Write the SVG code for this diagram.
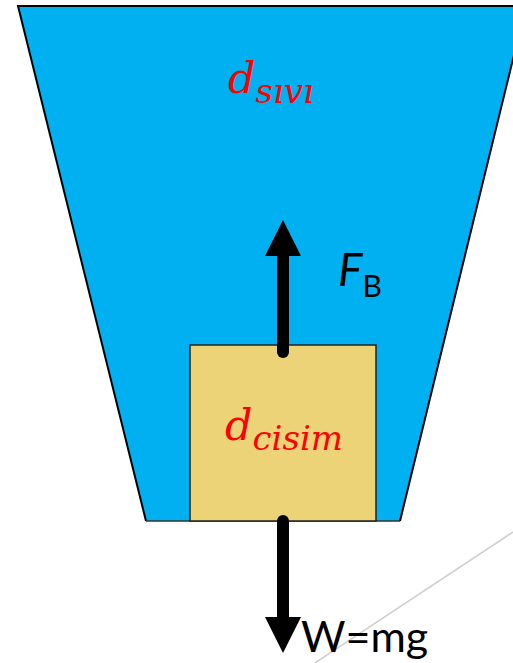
<svg xmlns="http://www.w3.org/2000/svg" width="513" height="663" viewBox="0 0 513 663">
<style>
.math{font-family:"DejaVu Serif","Liberation Serif",serif;font-style:italic;fill:#FF0000}
.lbl{font-family:Lato,"Open Sans",sans-serif;fill:#000}
.force{stroke:#000;stroke-width:12;stroke-linecap:round;fill:none}
</style>
<rect width="513" height="663" fill="#fff"/>
<line x1="315" y1="663" x2="513" y2="532" stroke="#d0d0d0" stroke-width="1.5"/>
<g id="container">
<polygon points="18,6 526,6 400,521 146,521" fill="#00B0F0"/>
<polyline points="146,521 18,6 526,6 400,521" fill="none" stroke="#000" stroke-width="2"/>
<line x1="146" y1="521" x2="400" y2="521" stroke="#333" stroke-width="1.5"/>
<text class="math" x="228" y="93" font-size="43">d<tspan font-size="34" dy="10">sıvı</tspan></text>
</g>
<g id="body">
<rect x="190" y="345" width="186" height="176" fill="#EDD377" stroke="#222" stroke-width="1.5"/>
<text class="math" x="225" y="440" font-size="43">d<tspan font-size="34" dy="10">cisim</tspan></text>
</g>
<g id="connectors">
<g id="buoyant">
<line class="force" x1="283" y1="352" x2="283" y2="252"/>
<polygon points="283,220 301,256 265,256" fill="#000"/>
</g>
<g id="weight">
<line class="force" x1="283" y1="521" x2="283" y2="620"/>
<polygon points="283,653 301,617 265,617" fill="#000"/>
</g>
</g>
<text class="lbl" x="338" y="286" font-size="46" font-style="italic">F<tspan font-size="30" font-style="normal" dy="11">B</tspan></text>
<text class="lbl" x="301" y="652" font-size="43">W=mg</text>
</svg>
